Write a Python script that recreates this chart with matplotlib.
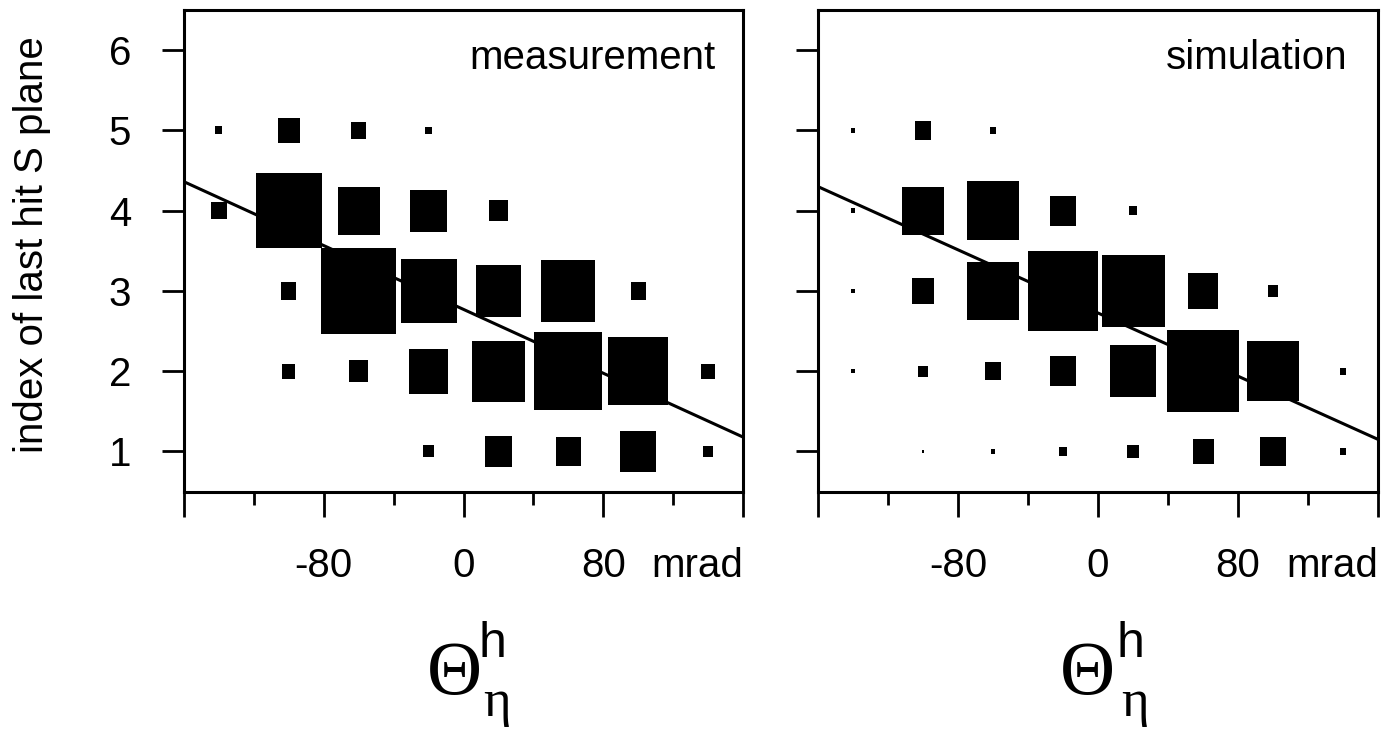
import numpy as np
import matplotlib.pyplot as plt
from matplotlib.patches import Rectangle

plt.rcParams['font.family'] = ['Liberation Sans', 'DejaVu Sans']

# bin centres in theta (mrad) and S plane index
theta_centers = [-140, -100, -60, -20, 20, 60, 100, 140]
planes = [1, 2, 3, 4, 5]

# box side as fraction of a bin, one row per plane (1..5)
meas_box = [
    [0.00, 0.00, 0.00, 0.15, 0.39, 0.35, 0.52, 0.14],
    [0.00, 0.19, 0.27, 0.56, 0.76, 0.97, 0.85, 0.19],
    [0.00, 0.22, 1.07, 0.80, 0.64, 0.77, 0.22, 0.00],
    [0.22, 0.94, 0.60, 0.52, 0.26, 0.00, 0.00, 0.00],
    [0.10, 0.31, 0.22, 0.09, 0.00, 0.00, 0.00, 0.00],
]
sim_box = [
    [0.00, 0.03, 0.07, 0.11, 0.17, 0.30, 0.37, 0.08],
    [0.05, 0.14, 0.22, 0.38, 0.65, 1.02, 0.75, 0.09],
    [0.06, 0.32, 0.73, 1.00, 0.90, 0.44, 0.14, 0.00],
    [0.07, 0.60, 0.74, 0.37, 0.12, 0.00, 0.00, 0.00],
    [0.07, 0.24, 0.09, 0.00, 0.00, 0.00, 0.00, 0.00],
]

# straight line fits: intercept, slope (per mrad)
meas_fit = (2.77, -0.00994)
sim_fit = (2.725, -0.00984)

bin_w = 40
fig = plt.figure(figsize=(13.95, 7.31), dpi=100)
ax1 = fig.add_axes([184 / 1395, 1 - 491.6 / 731, 559 / 1395, 481.6 / 731])
ax2 = fig.add_axes([818 / 1395, 1 - 491.6 / 731, 560 / 1395, 481.6 / 731])


def draw_panel(ax, boxes, fit, name):
    for row, plane in zip(boxes, planes):
        for f, x in zip(row, theta_centers):
            if f > 0:
                ax.add_patch(Rectangle((x - bin_w * f / 2, plane - f / 2), bin_w * f, f,
                                       facecolor='black', edgecolor='none', zorder=3))
    xs = np.array([-160, 160])
    ax.plot(xs, fit[0] + fit[1] * xs, color='black', lw=2.2, zorder=2)

    ax.set_xlim(-160, 160)
    ax.set_ylim(0.5, 6.5)
    ax.set_xticks([-160, -80, 0, 80, 160])
    ax.set_xticklabels(['', '-80', '0', '80', 'mrad'])
    ax.get_xticklabels()[-1].set_horizontalalignment('right')
    ax.set_xticks([-120, -40, 40, 120], minor=True)
    ax.set_yticks([1, 2, 3, 4, 5, 6])
    ax.tick_params(axis='x', which='major', direction='out', length=18, width=2,
                   labelsize=29, pad=22)
    ax.tick_params(axis='x', which='minor', direction='out', length=9.5, width=2)
    ax.tick_params(axis='y', direction='out', length=16, width=2, labelsize=29, pad=22)
    for sp in ax.spines.values():
        sp.set_linewidth(2.2)
    ax.text(0.95 if name == 'measurement' else 0.945, 0.878, name, transform=ax.transAxes,
            ha='right', va='baseline', fontsize=29)


draw_panel(ax1, meas_box, meas_fit, 'measurement')
draw_panel(ax2, sim_box, sim_fit, 'simulation')
ax2.tick_params(axis='y', labelleft=False)

fig.text(32 / 1395, 1 - 245 / 731, 'index of last hit S plane', rotation=90,
         ha='center', va='center', fontsize=29)

# axis titles: Theta with superscript h and subscript eta
for xc, xs in [(454, 478), (1087.5, 1116)]:
    fig.text(xc / 1395, 1 - 694 / 731, '\u0398', family='Liberation Serif',
             fontsize=55, ha='center', va='baseline')
    fig.text(xs / 1395, 1 - 657 / 731, 'h', fontsize=36, ha='left', va='baseline')
    fig.text((xs + 5) / 1395, 1 - 716 / 731, '\u03b7', family='Liberation Serif',
             fontsize=38, ha='left', va='baseline')

fig.savefig('out.png', dpi=100)
